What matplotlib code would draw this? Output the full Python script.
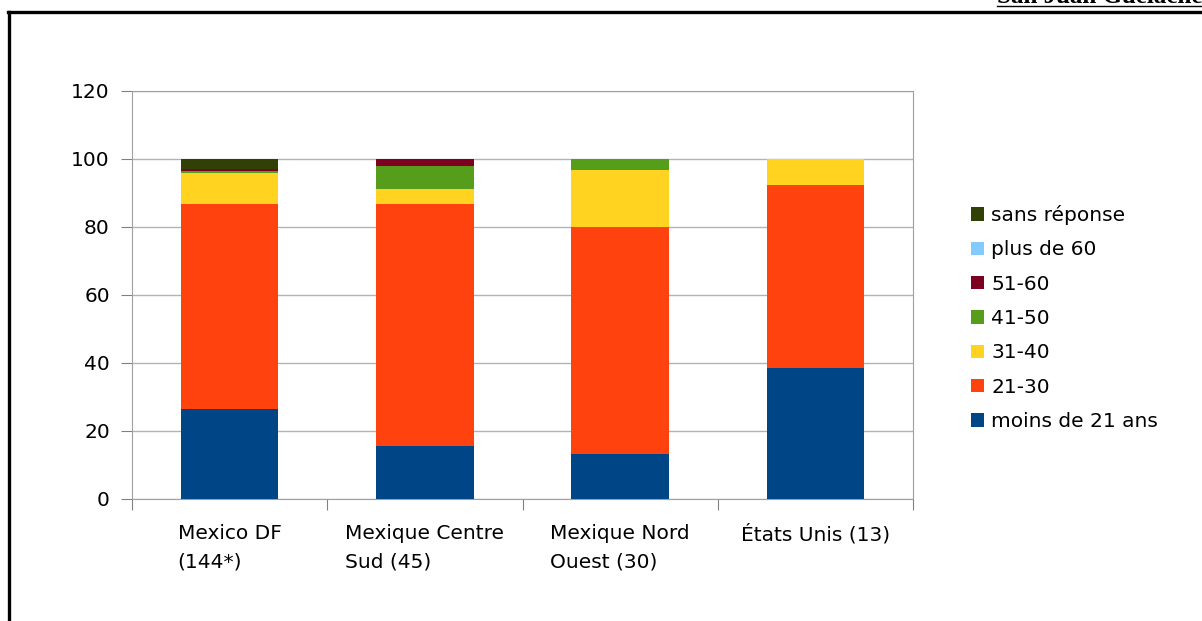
import matplotlib
matplotlib.use('Agg')
import matplotlib.pyplot as plt
from matplotlib.lines import Line2D
import numpy as np

plt.rcParams['font.family'] = ['DejaVu Sans']

regions = ['Mexico DF\n(144*)', 'Mexique Centre\nSud (45)', 'Mexique Nord\nOuest (30)', 'États Unis (13)']
age_groups = ['moins de 21 ans', '21-30', '31-40', '41-50', '51-60', 'plus de 60', 'sans réponse']

# percentages per age group, one value per region
moins_21 = [26.4, 15.6, 13.3, 38.5]
de_21_30 = [60.4, 71.1, 66.7, 53.8]
de_31_40 = [9.0, 4.4, 16.7, 7.7]
de_41_50 = [0.7, 6.7, 3.3, 0.0]
de_51_60 = [0.7, 2.2, 0.0, 0.0]
plus_60 = [0.0, 0.0, 0.0, 0.0]
sans_rep = [2.8, 0.0, 0.0, 0.0]

series = [moins_21, de_21_30, de_31_40, de_41_50, de_51_60, plus_60, sans_rep]
colors = ['#004586', '#ff420e', '#ffd320', '#579d1c', '#7e0021', '#83caff', '#314004']

fig = plt.figure(figsize=(12.02, 6.21), dpi=100)
ax = fig.add_axes([132 / 1202, 122 / 621, 781 / 1202, 408 / 621])

x = np.arange(len(regions))
bottom = np.zeros(len(regions))
for vals, col, lab in zip(series, colors, age_groups):
    ax.bar(x, vals, 0.5, bottom=bottom, color=col, label=lab, zorder=3)
    bottom += np.array(vals)

ax.set_xlim(-0.5, 3.5)
ax.set_ylim(0, 120)
ax.set_yticks(range(0, 121, 20))
ax.grid(axis='y', color='#b3b3b3', linewidth=1, zorder=0)
for s in ax.spines.values():
    s.set_color('#a0a0a0')
ax.tick_params(axis='y', length=8, color='#808080', labelsize=14.5, pad=8)
ax.set_xticks(np.arange(-0.5, 3.6, 1))
ax.set_xticklabels([])
ax.tick_params(axis='x', which='major', length=8, color='#808080')
ax.set_xticks(x, minor=True)
ax.set_xticklabels(regions, minor=True, fontsize=14.5, multialignment='left', linespacing=1.65)
ax.tick_params(axis='x', which='minor', length=0, pad=18)

handles, labels = ax.get_legend_handles_labels()
fig.legend(handles[::-1], labels[::-1], loc='center left', bbox_to_anchor=(971 / 1202, 1 - 318 / 621),
           frameon=False, fontsize=14.5, handlelength=0.65, handleheight=0.65,
           handletextpad=0.35, labelspacing=0.76, borderpad=0, borderaxespad=0)

# page frame and header
fig.add_artist(Line2D([8 / 1202, 1], [1 - 11.5 / 621, 1 - 11.5 / 621], color='black', lw=2.4))
fig.add_artist(Line2D([9 / 1202, 9 / 1202], [0, 1 - 11.5 / 621], color='black', lw=2.4))
fig.text(997 / 1202, 1 - 3 / 621, 'San Juan Guelache', family=['Liberation Serif', 'DejaVu Serif'],
         fontweight='bold', fontsize=18, va='baseline', ha='left')
fig.add_artist(Line2D([997 / 1202, 1], [1 - 6 / 621, 1 - 6 / 621], color='black', lw=1))

fig.savefig('out.png', dpi=100)
